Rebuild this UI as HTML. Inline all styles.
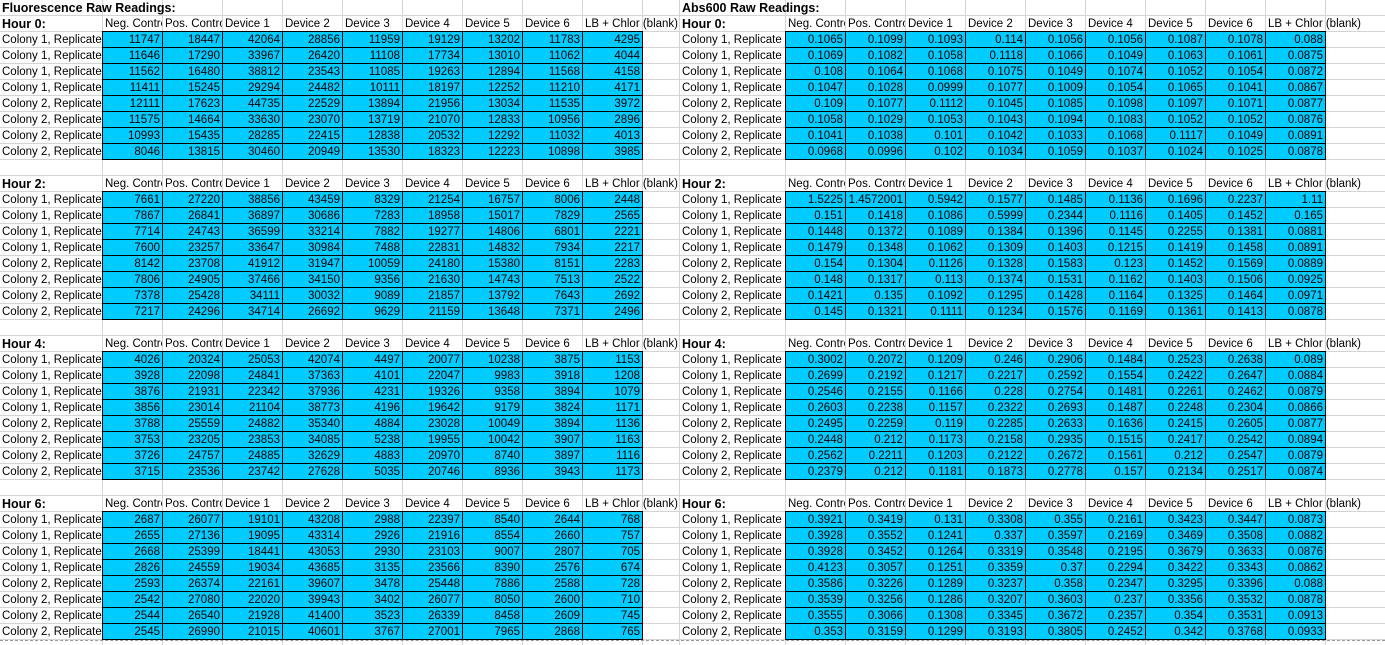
<!DOCTYPE html>
<html><head><meta charset="utf-8">
<style>
html,body{margin:0;padding:0;background:#fff;}
#sheet{position:relative;width:1385px;height:645px;overflow:hidden;font-family:"Liberation Sans",Arial,sans-serif;font-size:11.5px;color:#000;}
.gv{position:absolute;top:0;width:1px;height:645px;background:#d4d4d4;}
.gh{position:absolute;left:0;height:1px;width:1385px;background:#d4d4d4;}
.t{position:absolute;height:15px;line-height:17px;white-space:nowrap;overflow:hidden;padding-left:2px;box-sizing:border-box;background:#fff;}
.c{position:absolute;height:17px;line-height:17px;background:#00ccff;border:1px solid #000;box-sizing:border-box;text-align:right;padding-right:2px;white-space:nowrap;overflow:hidden;}
.b{font-weight:bold;font-size:12.5px;}
</style></head><body>
<div id="sheet"></div>
<script>
const rowLabels=["Colony 1, Replicate 1","Colony 1, Replicate 2","Colony 1, Replicate 3","Colony 1, Replicate 4","Colony 2, Replicate 1","Colony 2, Replicate 2","Colony 2, Replicate 3","Colony 2, Replicate 4"];
const colHeaders=["Neg. Control","Pos. Control","Device 1","Device 2","Device 3","Device 4","Device 5","Device 6","LB + Chlor (blank)"];
const hours=["Hour 0:","Hour 2:","Hour 4:","Hour 6:"];
const fluo0=[[11747,18447,42064,28856,11959,19129,13202,11783,4295],[11646,17290,33967,26420,11108,17734,13010,11062,4044],[11562,16480,38812,23543,11085,19263,12894,11568,4158],[11411,15245,29294,24482,10111,18197,12252,11210,4171],[12111,17623,44735,22529,13894,21956,13034,11535,3972],[11575,14664,33630,23070,13719,21070,12833,10956,2896],[10993,15435,28285,22415,12838,20532,12292,11032,4013],[8046,13815,30460,20949,13530,18323,12223,10898,3985]];
const fluo2=[[7661,27220,38856,43459,8329,21254,16757,8006,2448],[7867,26841,36897,30686,7283,18958,15017,7829,2565],[7714,24743,36599,33214,7882,19277,14806,6801,2221],[7600,23257,33647,30984,7488,22831,14832,7934,2217],[8142,23708,41912,31947,10059,24180,15380,8151,2283],[7806,24905,37466,34150,9356,21630,14743,7513,2522],[7378,25428,34111,30032,9089,21857,13792,7643,2692],[7217,24296,34714,26692,9629,21159,13648,7371,2496]];
const fluo4=[[4026,20324,25053,42074,4497,20077,10238,3875,1153],[3928,22098,24841,37363,4101,22047,9983,3918,1208],[3876,21931,22342,37936,4231,19326,9358,3894,1079],[3856,23014,21104,38773,4196,19642,9179,3824,1171],[3788,25559,24882,35340,4884,23028,10049,3894,1136],[3753,23205,23853,34085,5238,19955,10042,3907,1163],[3726,24757,24885,32629,4883,20970,8740,3897,1116],[3715,23536,23742,27628,5035,20746,8936,3943,1173]];
const fluo6=[[2687,26077,19101,43208,2988,22397,8540,2644,768],[2655,27136,19095,43314,2926,21916,8554,2660,757],[2668,25399,18441,43053,2930,23103,9007,2807,705],[2826,24559,19034,43685,3135,23566,8390,2576,674],[2593,26374,22161,39607,3478,25448,7886,2588,728],[2542,27080,22020,39943,3402,26077,8050,2600,710],[2544,26540,21928,41400,3523,26339,8458,2609,745],[2545,26990,21015,40601,3767,27001,7965,2868,765]];
const abs0=[["0.1065","0.1099","0.1093","0.114","0.1056","0.1056","0.1087","0.1078","0.088"],["0.1069","0.1082","0.1058","0.1118","0.1066","0.1049","0.1063","0.1061","0.0875"],["0.108","0.1064","0.1068","0.1075","0.1049","0.1074","0.1052","0.1054","0.0872"],["0.1047","0.1028","0.0999","0.1077","0.1009","0.1054","0.1065","0.1041","0.0867"],["0.109","0.1077","0.1112","0.1045","0.1085","0.1098","0.1097","0.1071","0.0877"],["0.1058","0.1029","0.1053","0.1043","0.1094","0.1083","0.1052","0.1052","0.0876"],["0.1041","0.1038","0.101","0.1042","0.1033","0.1068","0.1117","0.1049","0.0891"],["0.0968","0.0996","0.102","0.1034","0.1059","0.1037","0.1024","0.1025","0.0878"]];
const abs2=[["1.5225","1.4572001","0.5942","0.1577","0.1485","0.1136","0.1696","0.2237","1.11"],["0.151","0.1418","0.1086","0.5999","0.2344","0.1116","0.1405","0.1452","0.165"],["0.1448","0.1372","0.1089","0.1384","0.1396","0.1145","0.2255","0.1381","0.0881"],["0.1479","0.1348","0.1062","0.1309","0.1403","0.1215","0.1419","0.1458","0.0891"],["0.154","0.1304","0.1126","0.1328","0.1583","0.123","0.1452","0.1569","0.0889"],["0.148","0.1317","0.113","0.1374","0.1531","0.1162","0.1403","0.1506","0.0925"],["0.1421","0.135","0.1092","0.1295","0.1428","0.1164","0.1325","0.1464","0.0971"],["0.145","0.1321","0.1111","0.1234","0.1576","0.1169","0.1361","0.1413","0.0878"]];
const abs4=[["0.3002","0.2072","0.1209","0.246","0.2906","0.1484","0.2523","0.2638","0.089"],["0.2699","0.2192","0.1217","0.2217","0.2592","0.1554","0.2422","0.2647","0.0884"],["0.2546","0.2155","0.1166","0.228","0.2754","0.1481","0.2261","0.2462","0.0879"],["0.2603","0.2238","0.1157","0.2322","0.2693","0.1487","0.2248","0.2304","0.0866"],["0.2495","0.2259","0.119","0.2285","0.2633","0.1636","0.2415","0.2605","0.0877"],["0.2448","0.212","0.1173","0.2158","0.2935","0.1515","0.2417","0.2542","0.0894"],["0.2562","0.2211","0.1203","0.2122","0.2672","0.1561","0.212","0.2547","0.0879"],["0.2379","0.212","0.1181","0.1873","0.2778","0.157","0.2134","0.2517","0.0874"]];
const abs6=[["0.3921","0.3419","0.131","0.3308","0.355","0.2161","0.3423","0.3447","0.0873"],["0.3928","0.3552","0.1241","0.337","0.3597","0.2169","0.3469","0.3508","0.0882"],["0.3928","0.3452","0.1264","0.3319","0.3548","0.2195","0.3679","0.3633","0.0876"],["0.4123","0.3057","0.1251","0.3359","0.37","0.2294","0.3422","0.3343","0.0862"],["0.3586","0.3226","0.1289","0.3237","0.358","0.2347","0.3295","0.3396","0.088"],["0.3539","0.3256","0.1286","0.3207","0.3603","0.237","0.3356","0.3532","0.0878"],["0.3555","0.3066","0.1308","0.3345","0.3672","0.2357","0.354","0.3531","0.0913"],["0.353","0.3159","0.1299","0.3193","0.3805","0.2452","0.342","0.3768","0.0933"]];
const fluoBlocks=[fluo0,fluo2,fluo4,fluo6];
const absBlocks=[abs0,abs2,abs4,abs6];

const sheet=document.getElementById('sheet');
const vlines=[103,163,223,283,343,403,463,523,583,643,680,786,846,906,966,1026,1086,1146,1206,1266,1326];
vlines.forEach(x=>{const d=document.createElement('div');d.className='gv';d.style.left=(x-1)+'px';


sheet.appendChild(d);});
for(let y=15;y<645;y+=16){const d=document.createElement('div');d.className='gh';d.style.top=y+'px';


sheet.appendChild(d);}
const pb=document.createElement('div');pb.style.cssText='position:absolute;left:0;top:640px;width:1385px;border-top:1px dashed #999;';


sheet.appendChild(pb);

function text(x,y,w,s,cls,name){const d=document.createElement('div');d.className='t '+(cls||'');d.style.left=x+'px';d.style.top=y+'px';d.style.width=w+'px';d.textContent=s;


sheet.appendChild(d);return d;}
function cell(x,y,s){const d=document.createElement('div');d.className='c';d.style.left=(x-1)+'px';d.style.top=(y-1)+'px';d.style.width='61px';d.textContent=s;


sheet.appendChild(d);}

function table(x0,labW,title,blocks,prefix){
  const t=text(x0,0,300,title,'b',prefix+'-title');t.style.background='transparent';
  const cx0=x0+labW;
  blocks.forEach((blk,bi)=>{
    const hy=16+bi*160;
    text(x0,hy,labW-1,hours[bi],'b',prefix+'-hour-label');
    colHeaders.forEach((h,ci)=>{
      const last=ci===colHeaders.length-1;
      const e=text(cx0+ci*60,hy,last?100:59,h,'',prefix+'-column-header');
      if(last)e.style.background='transparent';
    });
    blk.forEach((row,ri)=>{
      const y=hy+16+ri*16;
      text(x0,y,labW-1,rowLabels[ri],'',prefix+'-row-label');
      row.forEach((v,ci)=>cell(cx0+ci*60,y,String(v)));
    });
  });
}
table(0,103,'Fluorescence Raw Readings:',fluoBlocks,'fluorescence');
table(680,106,'Abs600 Raw Readings:',absBlocks,'abs600');
</script>
</body></html>
